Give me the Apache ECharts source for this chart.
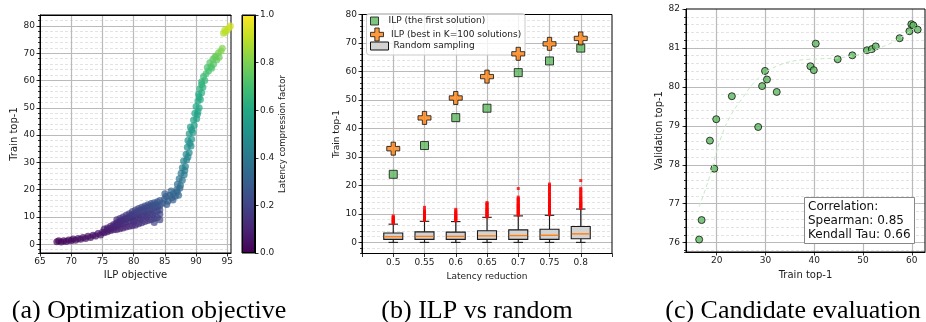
<!DOCTYPE html>
<html>
<head>
<meta charset="utf-8">
<script src="https://cdn.jsdelivr.net/npm/echarts@6/dist/echarts.min.js"></script>
<style>
  html, body { margin: 0; padding: 0; background: #fff; }
  #chart { width: 926px; height: 322px; }
</style>
</head>
<body>
<div id="chart"></div>
<script>
// ---------- (a) ILP objective vs train top-1, 3rd value = latency compression factor
const objPoints = [
  [67.7,0.9,0.01],[68.0,1.3,0.01],[68.4,0.8,0.02],[68.8,1.3,0.02],[69.2,1.0,0.02],[69.6,1.6,0.03],
  [70.0,1.3,0.03],[70.3,1.9,0.03],[70.7,1.5,0.03],[71.1,2.1,0.04],[71.5,1.8,0.04],[71.9,2.5,0.04],
  [72.3,2.1,0.04],[72.7,2.9,0.05],[73.1,2.5,0.05],[73.5,3.3,0.05],[73.9,3.0,0.05],[74.3,3.9,0.06],
  [74.7,3.4,0.06],[75.0,4.4,0.07],
  [75.3,4.2,0.06],[75.3,5.6,0.08],[75.8,4.6,0.07],[75.8,6.0,0.09],[75.8,5.2,0.08],
  [76.3,5.0,0.07],[76.3,6.6,0.1],[76.3,5.8,0.09],[76.8,5.3,0.08],[76.8,7.2,0.11],[76.8,6.3,0.1],
  [77.3,5.4,0.09],[77.3,7.9,0.12],[77.3,6.8,0.1],[77.3,9.0,0.14],
  [77.8,5.7,0.09],[77.8,8.3,0.13],[77.8,7.3,0.11],[77.8,9.4,0.15],
  [78.3,6.0,0.1],[78.3,8.8,0.14],[78.3,7.7,0.12],[78.3,10.0,0.16],
  [78.8,6.3,0.1],[78.8,9.3,0.15],[78.8,8.2,0.13],[78.8,10.6,0.17],
  [79.3,6.6,0.11],[79.3,9.9,0.16],[79.3,8.5,0.13],[79.3,11.2,0.18],
  [79.8,6.8,0.12],[79.8,10.3,0.16],[79.8,9.0,0.14],[79.8,12.0,0.19],
  [80.3,7.1,0.12],[80.3,10.8,0.17],[80.3,9.4,0.15],[80.3,12.6,0.2],
  [80.8,7.5,0.13],[80.8,11.3,0.18],[80.8,9.8,0.16],[80.8,13.1,0.21],
  [81.3,7.9,0.14],[81.3,11.7,0.19],[81.3,10.2,0.16],[81.3,13.6,0.22],
  [81.8,8.3,0.15],[81.8,12.2,0.2],[81.8,10.6,0.17],[81.8,14.0,0.23],
  [82.3,8.7,0.15],[82.3,12.5,0.2],[82.3,11.0,0.18],[82.3,14.5,0.24],
  [82.8,9.0,0.16],[82.8,13.0,0.21],[82.8,11.3,0.19],[82.8,14.9,0.25],
  [83.3,9.4,0.17],[83.3,13.4,0.22],[83.3,11.8,0.2],[83.3,15.2,0.26],[83.3,8.0,0.2],
  [83.8,9.8,0.18],[83.8,13.8,0.23],[83.8,12.2,0.21],[83.8,15.6,0.27],
  [84.2,11.0,0.19],[84.2,14.2,0.25],[84.2,12.6,0.22],[84.2,16.0,0.28],[84.2,9.0,0.21],
  [77.05,7.0,0.11],[77.55,7.9,0.12],[78.05,8.6,0.13],[78.55,9.2,0.14],[79.05,9.6,0.15],
  [79.55,10.6,0.17],[80.05,11.2,0.18],[80.55,11.9,0.19],[81.05,12.4,0.2],[81.55,12.9,0.21],
  [82.05,13.4,0.22],[82.55,13.8,0.23],[83.05,14.2,0.24],[83.55,14.6,0.25],[80.05,8.4,0.14],
  [81.05,9.2,0.15],[82.05,10.0,0.16],[83.05,10.8,0.18],
  [84.6,15.0,0.28],[84.9,16.5,0.29],[85.2,17.5,0.3],[85.5,15.8,0.29],[85.8,18.0,0.31],
  [86.1,17.0,0.31],[86.4,18.6,0.32],[86.7,17.6,0.32],[87.0,19.2,0.33],[87.2,18.0,0.33],
  [86.9,20.0,0.34],[85.0,18.5,0.3],[86.0,19.5,0.32],[85.3,14.6,0.28],[86.3,16.2,0.3],
  [87.0,22.0,0.36],[87.5,21.5,0.36],[87.3,24.0,0.38],[87.8,23.5,0.38],[87.6,26.0,0.4],
  [88.1,25.5,0.4],[87.8,28.0,0.42],[88.3,28.5,0.43],[88.0,30.5,0.45],[88.5,31.0,0.45],
  [88.4,33.0,0.47],[88.9,33.5,0.47],[88.6,35.5,0.49],[89.2,36.0,0.49],[88.7,38.0,0.51],
  [89.3,38.5,0.51],[88.9,40.5,0.53],[89.5,41.0,0.53],[89.1,43.0,0.55],[89.7,43.5,0.55],
  [87.4,20.5,0.35],[88.2,27.0,0.42],[88.7,32.0,0.46],[89.0,37.0,0.5],[89.3,42.0,0.54],
  [89.6,45.5,0.56],[90.1,46.0,0.57],[89.8,48.0,0.58],[90.3,48.5,0.58],[90.0,50.5,0.59],
  [90.5,50.0,0.59],[90.3,52.5,0.6],[90.7,53.0,0.61],[90.4,55.0,0.62],[90.9,55.5,0.62],
  [90.6,57.0,0.63],[91.1,57.5,0.64],[90.9,59.5,0.65],[91.4,60.0,0.66],[91.2,61.5,0.67],
  [90.2,47.5,0.58],[90.5,54.0,0.61],[90.9,58.5,0.64],
  [91.6,62.5,0.69],[92.0,63.5,0.7],[91.8,64.8,0.71],[92.4,65.0,0.72],[92.2,66.5,0.73],
  [92.8,66.0,0.73],[92.7,67.8,0.75],[93.3,67.5,0.75],[93.2,69.0,0.77],[93.7,68.5,0.77],
  [93.6,70.2,0.79],[94.0,70.8,0.8],[94.2,71.8,0.81],[92.5,64.5,0.72],[93.0,68.5,0.76],
  [94.4,77.3,0.88],[94.7,77.8,0.89],[95.0,78.5,0.9],[95.3,79.3,0.92],[95.5,80.0,0.93],[94.6,78.5,0.9]
];
const viridis = ['#440154','#482475','#414487','#355f8d','#2a788e','#21918c',
                 '#22a884','#44bf70','#7ad151','#bddf26','#fde725'];

// ---------- (b) ILP vs random sampling
const latencyReductions = ['0.5', '0.55', '0.6', '0.65', '0.7', '0.75', '0.8'];
const ilpFirst = [23.9, 34.0, 43.8, 47.1, 59.6, 63.7, 68.2];
const ilpBestK = [32.9, 43.7, 50.7, 58.2, 66.2, 69.7, 71.6];
const boxLow  = [0, 0, 0, 0, 0, 0, 0];
const boxQ1   = [1.05, 1.05, 1.05, 1.05, 1.05, 1.05, 1.3];
const boxMed  = [2.0, 2.1, 2.1, 2.3, 2.4, 2.5, 3.0];
const boxQ3   = [3.3, 3.7, 3.6, 4.1, 4.4, 4.6, 5.6];
const boxHigh = [6.4, 7.4, 7.3, 8.8, 9.3, 9.5, 11.7];
// outliers: [index into latencyReductions, value]
const fliers = [
  [0,6.7],[0,6.9],[0,7.2],[0,7.3],[0,7.6],[0,7.8],[0,8.1],[0,8.3],[0,8.7],[0,8.9],[0,9.3],
  [1,7.7],[1,8.0],[1,8.1],[1,8.5],[1,8.8],[1,9.0],[1,9.4],[1,9.6],[1,10.0],[1,10.3],[1,10.5],[1,11.0],[1,11.4],[1,12.3],
  [2,7.6],[2,7.8],[2,8.2],[2,8.4],[2,8.7],[2,9.1],[2,9.2],[2,9.6],[2,9.9],[2,10.3],[2,10.6],[2,11.1],[2,11.6],
  [3,8.9],[3,9.1],[3,9.3],[3,9.7],[3,9.9],[3,10.2],[3,10.6],[3,10.8],[3,11.1],[3,11.5],[3,11.7],[3,12.1],[3,12.4],[3,12.9],[3,13.3],[3,13.6],[3,14.0],
  [4,9.5],[4,9.9],[4,10.1],[4,10.4],[4,10.8],[4,11.0],[4,11.3],[4,11.7],[4,11.9],[4,12.3],[4,12.5],[4,12.9],[4,13.1],[4,13.5],[4,13.8],[4,14.3],[4,14.6],[4,15.1],[4,15.4],[4,15.9],[4,18.9],
  [5,9.7],[5,10.0],[5,10.4],[5,10.6],[5,11.0],[5,11.2],[5,11.6],[5,11.8],[5,12.2],[5,12.4],[5,12.8],[5,13.0],[5,13.5],[5,13.8],[5,14.3],[5,14.6],[5,15.1],[5,15.4],[5,16.1],[5,16.5],[5,17.1],[5,17.4],[5,18.1],[5,18.5],[5,19.1],[5,19.5],[5,20.0],[5,20.5],
  [6,11.9],[6,12.3],[6,12.5],[6,12.9],[6,13.1],[6,13.5],[6,13.7],[6,14.1],[6,14.4],[6,14.9],[6,15.2],[6,15.7],[6,16.0],[6,16.6],[6,17.0],[6,17.6],[6,18.0],[6,18.6],[6,19.0],[6,21.7]
];

// ---------- (c) candidate evaluation
const candidates = [
  [16.4,76.08],[16.9,76.58],[18.6,78.62],[19.5,77.9],[19.9,79.17],[23.1,79.76],[28.5,78.97],
  [29.3,80.02],[29.9,80.41],[30.3,80.19],[32.3,79.87],[39.2,80.53],[39.9,80.43],[40.3,81.11],
  [44.8,80.71],[47.8,80.81],[50.8,80.94],[51.8,80.97],[52.6,81.04],[57.5,81.25],[59.5,81.43],
  [59.9,81.61],[60.3,81.58],[61.2,81.47]
];
const fitCurve = [
  [16.4,76.92],[18.3,77.6],[20.7,78.63],[22.7,79.23],[25.5,79.75],[27.5,80.09],[30.2,80.39],
  [33.7,80.6],[37.1,80.69],[41.2,80.72],[46,80.76],[50,80.86],[53,80.98],[56.9,81.2],[60,81.46],[61.6,81.6]
];
const spearman = 0.85;
const kendall = 0.66;

// ---------- styling helpers
const FONT = 'DejaVu Sans';
const INK = '#1a1a1a';
const PLUS = 'path://M4,0H8V4H12V8H8V12H4V8H0V4H4Z';
const major = { show: true, showMinLine: false, showMaxLine: false, lineStyle: { color: '#bababa', width: 1.2 } };
const minor = { show: true, showMinLine: false, showMaxLine: false, lineStyle: { color: '#dcdcdc', width: 0.8, type: [3, 2] } };
const spine = { show: true, onZero: false, lineStyle: { color: '#000', width: 1 } };
const tick = (len) => ({ show: true, inside: false, length: len, lineStyle: { color: '#000', width: 0.8 } });
const label = (margin, extra) => Object.assign({ fontFamily: FONT, fontSize: 9, color: INK, margin }, extra || {});
const nameStyle = (size) => ({ fontFamily: FONT, fontSize: size, color: INK });
const frame = { show: true, z: 1, borderColor: '#000', borderWidth: 1 };

const bCats = [''].concat(latencyReductions, ['']);

function renderBox(params, api) {
  const x = api.value(0);
  const lo = api.coord([x, api.value(1)]);
  const q1 = api.coord([x, api.value(2)]);
  const md = api.coord([x, api.value(3)]);
  const q3 = api.coord([x, api.value(4)]);
  const hi = api.coord([x, api.value(5)]);
  const cx = lo[0], hw = 9.5, cw = 4.75;
  const ls = { stroke: '#1a1a1a', lineWidth: 1.1 };
  return {
    type: 'group',
    children: [
      { type: 'line', shape: { x1: cx, y1: q1[1], x2: cx, y2: lo[1] }, style: ls },
      { type: 'line', shape: { x1: cx, y1: q3[1], x2: cx, y2: hi[1] }, style: ls },
      { type: 'line', shape: { x1: cx - cw, y1: lo[1], x2: cx + cw, y2: lo[1] }, style: ls },
      { type: 'line', shape: { x1: cx - cw, y1: hi[1], x2: cx + cw, y2: hi[1] }, style: ls },
      { type: 'rect', shape: { x: cx - hw, y: q3[1], width: 2 * hw, height: q1[1] - q3[1] },
        style: { fill: '#d3d3d3', stroke: '#1a1a1a', lineWidth: 1.1 } },
      { type: 'line', shape: { x1: cx - hw + 0.6, y1: md[1], x2: cx + hw - 0.6, y2: md[1] },
        style: { stroke: '#ff7f0e', lineWidth: 1.4 } }
    ]
  };
}

const chart = echarts.init(document.getElementById('chart'), null, { renderer: 'canvas' });

const legendText = { fontFamily: FONT, fontSize: 9, color: INK };

chart.setOption({
  animation: false,
  backgroundColor: '#fff',
  grid: [
    Object.assign({ left: 40, top: 15, width: 191, height: 238 }, frame),
    Object.assign({ left: 242, top: 15, width: 13, height: 238 }, frame),
    Object.assign({ left: 362, top: 14.5, width: 250, height: 239 }, frame),
    Object.assign({ left: 686, top: 9, width: 239, height: 243 }, frame)
  ],
  title: [{
    text: 'Correlation:\nSpearman: ' + spearman.toFixed(2) + '\nKendall Tau: ' + kendall.toFixed(2),
    left: 804, top: 197, padding: [3, 4, 2, 4],
    backgroundColor: '#fff', borderColor: '#888', borderWidth: 1,
    textStyle: { fontFamily: FONT, fontSize: 12, fontWeight: 'normal', color: '#111', lineHeight: 14 }
  }],
  legend: [
    { data: [{ name: 'ILP (the first solution)', icon: 'path://M0,0H8V8H0Z',
        itemStyle: { color: '#5cb85c', borderColor: '#111', borderWidth: 1 } }],
      left: 370, top: 16.5, padding: 0, itemWidth: 18, itemHeight: 8, selectedMode: false, textStyle: legendText },
    { data: [{ name: 'ILP (best in K=100 solutions)', icon: PLUS,
        itemStyle: { color: '#ff7f0e', borderColor: '#111', borderWidth: 1 } }],
      left: 370, top: 27.5, padding: 0, itemWidth: 18, itemHeight: 13, selectedMode: false, textStyle: legendText },
    { data: [{ name: 'Random sampling', icon: 'path://M0,0H18V8H0Z',
        itemStyle: { color: '#d3d3d3', borderColor: '#111', borderWidth: 1 } }],
      left: 370, top: 41.5, padding: 0, itemWidth: 18, itemHeight: 8, selectedMode: false, textStyle: legendText }
  ],
  visualMap: {
    type: 'continuous', show: false, seriesIndex: 0, dimension: 2, min: 0, max: 1,
    inRange: { color: viridis }
  },
  graphic: [
    { type: 'rect', z: 3, shape: { x: 366.5, y: 13.5, width: 158.5, height: 41.5, r: 3 },
      style: { fill: 'rgba(255,255,255,0.8)', stroke: '#cccccc', lineWidth: 1 } },
    { type: 'text', x: 149, y: 311, style: { text: '(a) Optimization objective', fontFamily: 'Liberation Serif', fontSize: 26,
      fill: '#000', align: 'center', verticalAlign: 'middle', textAlign: 'center', textVerticalAlign: 'middle' } },
    { type: 'text', x: 477, y: 311, style: { text: '(b) ILP vs random', fontFamily: 'Liberation Serif', fontSize: 26,
      fill: '#000', align: 'center', verticalAlign: 'middle', textAlign: 'center', textVerticalAlign: 'middle' } },
    { type: 'text', x: 793, y: 311, style: { text: '(c) Candidate evaluation', fontFamily: 'Liberation Serif', fontSize: 26,
      fill: '#000', align: 'center', verticalAlign: 'middle', textAlign: 'center', textVerticalAlign: 'middle' } }
  ],
  xAxis: [
    { gridIndex: 0, type: 'value', min: 65, max: 95.6, minInterval: 5, maxInterval: 5, z: 0.5,
      name: 'ILP objective', nameLocation: 'middle', nameGap: 17, nameTextStyle: nameStyle(10),
      axisLine: spine, axisTick: tick(3.5), axisLabel: label(4, { showMaxLabel: false }), splitLine: major },
    { gridIndex: 1, type: 'category', data: ['cb'], show: false },
    { gridIndex: 2, type: 'category', data: bCats, boundaryGap: false, z: 0.5,
      name: 'Latency reduction', nameLocation: 'middle', nameGap: 18, nameTextStyle: nameStyle(9),
      axisLine: spine, axisTick: Object.assign(tick(3.5), { interval: 0 }),
      axisLabel: label(5, { interval: 0 }), splitLine: Object.assign({ interval: 0 }, major) },
    { gridIndex: 3, type: 'value', min: 13.7, max: 62.7, minInterval: 10, maxInterval: 10, z: 0.5,
      name: 'Train top-1', nameLocation: 'middle', nameGap: 18, nameTextStyle: nameStyle(10),
      axisLine: spine, axisTick: tick(3.5), axisLabel: label(4, { showMinLabel: false, showMaxLabel: false }),
      splitLine: major },
    // top spine of panel (a)
    { gridIndex: 0, type: 'value', position: 'top', min: 65, max: 95.6, z: 3,
      axisLine: spine, axisTick: { show: false }, axisLabel: { show: false }, splitLine: { show: false } }
  ],
  yAxis: [
    { gridIndex: 0, type: 'value', position: 'left', min: -3.2, max: 84, minInterval: 10, maxInterval: 10, z: 0.5,
      name: 'Train top-1', nameLocation: 'middle', nameGap: 19, nameTextStyle: nameStyle(10),
      axisLine: spine, axisTick: tick(3.5), axisLabel: label(5, { showMinLabel: false, showMaxLabel: false }),
      splitLine: major },
    { gridIndex: 0, type: 'value', position: 'left', min: -3.2, max: 84, minInterval: 2, maxInterval: 2, z: 0,
      axisLine: { show: false }, axisTick: tick(2), axisLabel: { show: false }, splitLine: minor },
    { gridIndex: 1, type: 'value', position: 'right', min: 0, max: 1, interval: 0.2,
      name: 'Latency compression factor', nameLocation: 'middle', nameGap: 22, nameTextStyle: nameStyle(8.5),
      axisLine: spine, axisTick: tick(3.5), axisLabel: label(5, { formatter: (v) => v.toFixed(1) }),
      splitLine: { show: false } },
    { gridIndex: 2, type: 'value', position: 'left', min: -3.9, max: 80, minInterval: 10, maxInterval: 10, z: 0.5,
      name: 'Train top-1', nameLocation: 'middle', nameGap: 20, nameTextStyle: nameStyle(9),
      axisLine: spine, axisTick: tick(3.5), axisLabel: label(5, { showMinLabel: false }), splitLine: major },
    { gridIndex: 2, type: 'value', position: 'left', min: -3.9, max: 80, minInterval: 2, maxInterval: 2, z: 0,
      axisLine: { show: false }, axisTick: tick(2), axisLabel: { show: false }, splitLine: minor },
    { gridIndex: 3, type: 'value', position: 'left', min: 75.76, max: 82, minInterval: 1, maxInterval: 1, z: 0.5,
      name: 'Validation top-1', nameLocation: 'middle', nameGap: 22, nameTextStyle: nameStyle(10),
      axisLine: spine, axisTick: tick(3.5), axisLabel: label(6, { showMinLabel: false }), splitLine: major },
    { gridIndex: 3, type: 'value', position: 'left', min: 75.76, max: 82, minInterval: 0.2, maxInterval: 0.2, z: 0,
      axisLine: { show: false }, axisTick: tick(2), axisLabel: { show: false }, splitLine: minor }
  ],
  series: [
    { type: 'scatter', xAxisIndex: 0, yAxisIndex: 0, data: objPoints, symbolSize: 7, silent: true,
      itemStyle: { opacity: 0.7 } },
    { type: 'bar', xAxisIndex: 1, yAxisIndex: 2, data: [1], barWidth: '100%', silent: true,
      itemStyle: {
        color: new echarts.graphic.LinearGradient(0, 0, 0, 1,
          viridis.slice().reverse().map((c, i, a) => ({ offset: i / (a.length - 1), color: c }))),
        borderColor: '#000', borderWidth: 1
      } },
    { name: 'Random sampling', type: 'custom', xAxisIndex: 2, yAxisIndex: 3, silent: true,
      data: latencyReductions.map((_, i) => [i + 1, boxLow[i], boxQ1[i], boxMed[i], boxQ3[i], boxHigh[i]]),
      encode: { x: 0, y: [1, 2, 3, 4, 5] }, renderItem: renderBox },
    { type: 'scatter', xAxisIndex: 2, yAxisIndex: 3, silent: true, symbol: 'rect', symbolSize: 3,
      data: fliers.map((f) => [f[0] + 1, f[1]]), itemStyle: { color: '#ff0000' } },
    { name: 'ILP (the first solution)', type: 'scatter', xAxisIndex: 2, yAxisIndex: 3, z: 4, silent: true,
      symbol: 'rect', symbolSize: 8, data: ilpFirst.map((v, i) => [i + 1, v]),
      itemStyle: { color: '#5cb85c', borderColor: '#111', borderWidth: 1 } },
    { name: 'ILP (best in K=100 solutions)', type: 'scatter', xAxisIndex: 2, yAxisIndex: 3, z: 4, silent: true,
      symbol: PLUS, symbolSize: 13, data: ilpBestK.map((v, i) => [i + 1, v]),
      itemStyle: { color: '#ff7f0e', borderColor: '#111', borderWidth: 1 } },
    { type: 'line', xAxisIndex: 3, yAxisIndex: 5, data: fitCurve, smooth: 0.4, showSymbol: false, silent: true,
      lineStyle: { color: '#c4eac4', width: 1, type: [4, 3] } },
    { type: 'scatter', xAxisIndex: 3, yAxisIndex: 5, data: candidates, symbolSize: 7, silent: true,
      itemStyle: { color: '#5cb85c', borderColor: '#111', borderWidth: 1 } }
  ]
});
</script>
</body>
</html>
